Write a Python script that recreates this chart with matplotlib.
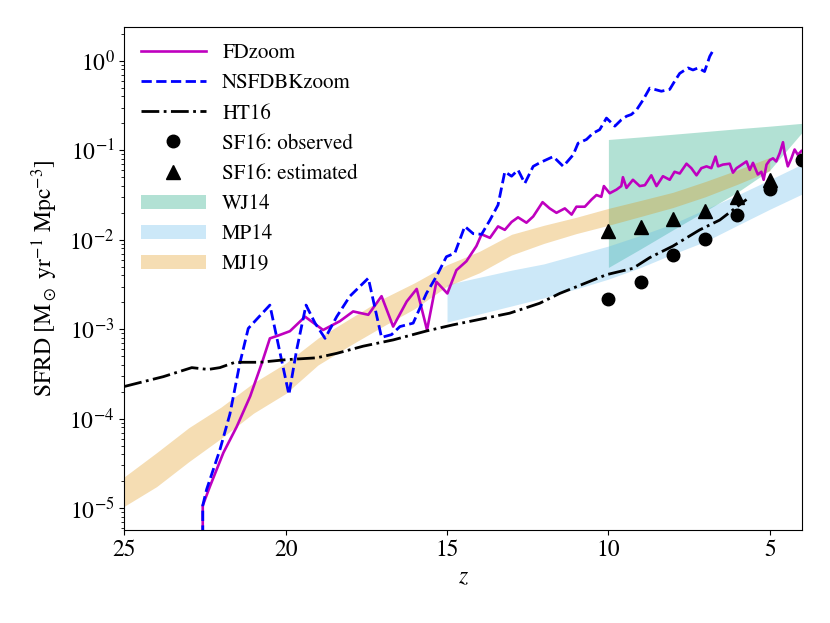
import numpy as np
import matplotlib
matplotlib.use('Agg')
import matplotlib.pyplot as plt

plt.rcParams['font.family'] = 'STIXGeneral'
plt.rcParams['mathtext.fontset'] = 'stix'

# FDzoom run (redshift, SFRD)
fd_z = [22.57, 22.57, 22.35, 21.93, 21.52, 21.10, 20.74, 20.49, 20.23, 19.87, 19.40, 18.84,
        18.32, 17.91, 17.44, 17.03, 16.67, 16.25, 15.94, 15.62, 15.33, 14.99, 14.71, 14.40,
        14.09, 13.93, 13.67, 13.42, 13.21, 13.00, 12.80, 12.54, 12.33, 12.04, 11.82, 11.61,
        11.35, 11.14, 10.99, 10.73, 10.52, 10.37, 10.22, 10.14, 9.96, 9.75, 9.60, 9.55,
        9.44, 9.24, 9.03, 8.87, 8.67, 8.51, 8.31, 8.10, 7.95, 7.79, 7.58, 7.43,
        7.27, 7.12, 6.96, 6.81, 6.68, 6.60, 6.45, 6.24, 6.14, 6.03, 5.72, 5.62,
        5.52, 5.37, 5.26, 5.19, 5.10, 5.00, 4.90, 4.80, 4.69, 4.59, 4.54, 4.44,
        4.33, 4.23, 4.13, 4.02]
fd_sfrd = [1e-7, 1.07e-5, 1.74e-5, 4.17e-5, 8.1e-5, 1.78e-4, 4.17e-4, 7.9e-4, 8.5e-4, 9.5e-4, 1.38e-3, 9.8e-4,
           1.23e-3, 1.58e-3, 1.45e-3, 2.34e-3, 1.07e-3, 2.04e-3, 2.82e-3, 9.8e-4, 3.39e-3, 2.51e-3, 4.57e-3, 5.75e-3,
           8.5e-3, 1.15e-2, 1.05e-2, 1.41e-2, 1.29e-2, 1.58e-2, 1.78e-2, 1.55e-2, 1.82e-2, 2.63e-2, 2.24e-2, 2.0e-2,
           2.24e-2, 1.91e-2, 2.34e-2, 2.34e-2, 2.82e-2, 3.16e-2, 3.02e-2, 3.98e-2, 3.31e-2, 3.63e-2, 3.98e-2, 5.0e-2,
           3.8e-2, 4.68e-2, 3.98e-2, 4.07e-2, 5.25e-2, 3.98e-2, 5.13e-2, 4.68e-2, 5.75e-2, 5.5e-2, 7.08e-2, 6.31e-2,
           5.25e-2, 6.31e-2, 6.61e-2, 6.31e-2, 8.5e-2, 6.61e-2, 6.92e-2, 7.08e-2, 5.62e-2, 6.31e-2, 7.5e-2, 6.03e-2,
           7.24e-2, 5.37e-2, 5.75e-2, 4.68e-2, 6.92e-2, 7.76e-2, 8.13e-2, 7.5e-2, 9.33e-2, 0.123, 9.33e-2, 6.61e-2,
           8.13e-2, 0.102, 8.9e-2, 9.8e-2]

# NSFDBKzoom run
ns_z = [22.57, 22.57, 22.45, 22.04, 21.73, 21.42, 21.16, 20.90, 20.49, 19.90, 19.66, 19.37,
        19.09, 18.78, 18.42, 18.01, 17.44, 17.03, 16.72, 16.46, 16.05, 15.64, 15.33, 15.02,
        14.76, 14.45, 14.19, 13.93, 13.67, 13.42, 13.21, 13.00, 12.80, 12.59, 12.33, 12.13,
        11.71, 11.40, 11.09, 10.94, 10.68, 10.48, 10.27, 10.06, 9.80, 9.60, 9.44, 9.29,
        9.13, 8.93, 8.72, 8.52, 8.36, 8.10, 7.95, 7.79, 7.53, 7.38, 7.22, 7.02,
        6.86, 6.75]
ns_sfrd = [1e-7, 1.07e-5, 1.62e-5, 4.47e-5, 1.12e-4, 4.17e-4, 1.02e-3, 1.29e-3, 1.86e-3, 1.86e-4, 5.9e-4, 1.86e-3,
           1.17e-3, 7.9e-4, 1.38e-3, 2.34e-3, 3.72e-3, 8.1e-4, 8.7e-4, 1.07e-3, 1.17e-3, 2.51e-3, 3.89e-3, 6.46e-3,
           7.08e-3, 1.41e-2, 1.17e-2, 1.15e-2, 1.66e-2, 2.45e-2, 5.75e-2, 5.13e-2, 6.03e-2, 4.27e-2, 6.61e-2, 7.24e-2,
           8.5e-2, 6.61e-2, 8.9e-2, 0.12, 0.132, 0.155, 0.17, 0.229, 0.186, 0.219, 0.24, 0.251,
           0.282, 0.363, 0.495, 0.474, 0.457, 0.479, 0.589, 0.724, 0.832, 0.79, 0.832, 0.759,
           1.12, 1.32]

# HT16
ht_z = [25.0, 23.79, 22.91, 22.40, 22.04, 21.57, 20.80, 19.97, 19.04, 18.42, 17.60, 16.67, 15.64,
        14.81, 13.98, 13.06, 12.13, 11.51, 10.68, 10.06, 9.24, 8.72, 8.00, 7.17, 6.55, 5.72]
ht_sfrd = [2.29e-4, 2.95e-4, 3.72e-4, 3.55e-4, 3.72e-4, 4.27e-4, 4.27e-4, 4.57e-4, 4.79e-4, 5.37e-4,
           6.46e-4, 7.59e-4, 9.55e-4, 1.12e-3, 1.29e-3, 1.51e-3, 1.95e-3, 2.51e-3, 3.31e-3, 4.07e-3,
           4.79e-3, 6.31e-3, 8.5e-3, 1.29e-2, 1.66e-2, 2.82e-2]

# SF16 points
sf_obs_z = [10, 9, 8, 7, 6, 5, 4]
sf_obs = [2.2e-3, 3.4e-3, 6.7e-3, 1.02e-2, 1.9e-2, 3.7e-2, 7.7e-2]
sf_est_z = [10, 9, 8, 7, 6, 5]
sf_est = [1.24e-2, 1.39e-2, 1.7e-2, 2.1e-2, 3.0e-2, 4.6e-2]

# WJ14 band
wj_z = [10, 9, 8, 7, 6, 5, 4]
wj_lo = [4.9e-3, 7.9e-3, 1.29e-2, 2.09e-2, 3.4e-2, 6.0e-2, 0.158]
wj_hi = [0.132, 0.141, 0.151, 0.162, 0.174, 0.186, 0.2]

# MP14 band
mp_z = [15, 14, 13, 12, 11, 10, 9, 8, 7, 6, 5, 4]
mp_lo = [1.2e-3, 1.48e-3, 1.82e-3, 2.24e-3, 2.82e-3, 3.63e-3, 4.9e-3, 6.92e-3, 9.55e-3, 1.45e-2, 2.19e-2, 3.24e-2]
mp_hi = [3.16e-3, 3.8e-3, 4.57e-3, 5.37e-3, 6.76e-3, 8.5e-3, 1.12e-2, 1.51e-2, 2.19e-2, 3.16e-2, 4.68e-2, 7.0e-2]

# MJ19 band
mj_z = [25, 24, 23, 22, 21, 20, 19, 18, 17, 16, 15, 14, 13, 12, 11, 10, 9, 8, 7, 6, 5]
mj_lo = [1.05e-5, 1.74e-5, 3.31e-5, 6.03e-5, 1.15e-4, 1.91e-4, 3.98e-4, 6.61e-4, 1.07e-3, 1.7e-3,
         3.02e-3, 4.27e-3, 6.76e-3, 9.1e-3, 1.17e-2, 1.45e-2, 1.82e-2, 2.29e-2, 3.02e-2, 4.17e-2, 5.89e-2]
mj_hi = [2.24e-5, 4.17e-5, 7.94e-5, 1.35e-4, 2.51e-4, 4.17e-4, 7.94e-4, 1.32e-3, 2.19e-3, 3.31e-3,
         5.25e-3, 7.41e-3, 1.15e-2, 1.45e-2, 1.78e-2, 2.24e-2, 2.75e-2, 3.39e-2, 4.47e-2, 6.03e-2, 8.32e-2]

fig = plt.figure(figsize=(8.3, 6.23), dpi=100)
ax = fig.add_axes([0.1498, 0.1493, 0.8165, 0.8077])

l1, = ax.plot(fd_z, fd_sfrd, color='m', lw=1.9, label='FDzoom')
l2, = ax.plot(ns_z, ns_sfrd, color='b', ls='--', lw=2, label='NSFDBKzoom')
l3, = ax.plot(ht_z, ht_sfrd, color='k', ls='-.', lw=2, label='HT16')
l4, = ax.plot(sf_obs_z, sf_obs, 'ko', ms=9, label='SF16: observed')
l5, = ax.plot(sf_est_z, sf_est, 'k^', ms=9.5, label='SF16: estimated')

f1 = ax.fill_between(wj_z, wj_lo, wj_hi, color='#029e73', alpha=0.3, lw=0, label='WJ14')
f2 = ax.fill_between(mp_z, mp_lo, mp_hi, color='#56b4e9', alpha=0.3, lw=0, label='MP14')
f3 = ax.fill_between(mj_z, mj_lo, mj_hi, color='#de8f05', alpha=0.3, lw=0, label='MJ19')

ax.set_yscale('log')
ax.set_xlim(25, 4)
ax.set_ylim(5.7e-6, 2.4)
ax.set_xticks([25, 20, 15, 10, 5])
ax.tick_params(labelsize=17)
ax.set_xlabel(r'$z$', fontsize=17)
ax.set_ylabel(r'SFRD [M$_\odot$ yr$^{-1}$ Mpc$^{-3}$]', fontsize=17, labelpad=7)

ax.legend(handles=[l1, l2, l3, l4, l5, f1, f2, f3], loc='upper left', frameon=False,
          fontsize=15, handlelength=3.1, numpoints=1, borderaxespad=0.4)

fig.savefig('out.png', dpi=100)
